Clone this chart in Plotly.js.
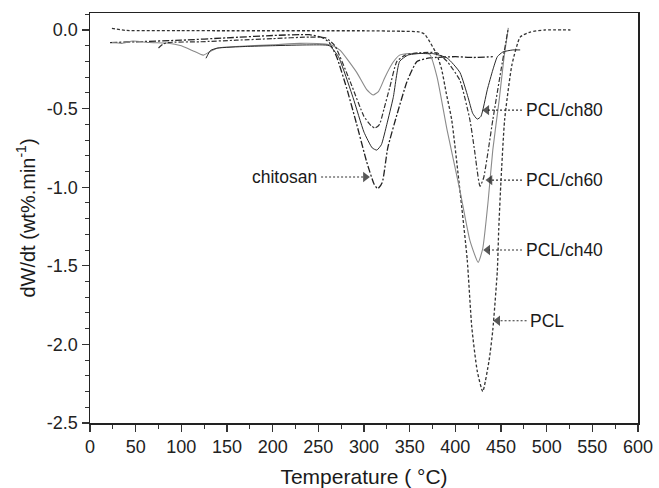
<!DOCTYPE html>
<html>
<head>
<meta charset="utf-8">
<script src="https://cdn.plot.ly/plotly-3.0.1.min.js"></script>
<style>html,body{margin:0;padding:0;background:#fff;}#chart{width:659px;height:488px;}</style>
</head>
<body>
<div id="chart"></div>
<script>
// ---- data ----
var T_PCL = [24, 40, 100, 150, 200, 250, 300, 340, 360, 366, 372, 380, 385, 390, 396, 405, 413, 418, 424, 430, 437, 441, 446, 447.5, 450, 454, 462, 471, 482, 498, 526];
var Y_PCL = [0.01, -0.003, -0.004, -0.005, -0.005, -0.005, -0.005, -0.008, -0.012, -0.025, -0.075, -0.16, -0.25, -0.4, -0.57, -1.02, -1.46, -1.89, -2.17, -2.30, -2.10, -1.91, -1.53, -1.27, -0.955, -0.57, -0.22, -0.045, -0.013, 0.0, 0.0];

var T_CHI = [22, 50, 100, 150, 200, 240, 255, 262, 270, 281, 292, 303, 311, 315, 320, 326, 336, 347, 358, 372, 400, 420, 441];
var Y_CHI = [-0.08, -0.075, -0.065, -0.05, -0.035, -0.03, -0.05, -0.08, -0.17, -0.37, -0.6, -0.84, -0.98, -1.01, -0.97, -0.75, -0.54, -0.33, -0.2, -0.178, -0.17, -0.175, -0.17];

var T_CH40 = [24, 35, 47, 65, 84, 100, 112, 124, 132, 140, 160, 200, 230, 258, 266, 274, 292, 303, 310, 316, 323, 332, 339, 350, 360, 372, 380, 391, 405, 416, 425, 430, 436, 441, 448, 453, 458];
var Y_CH40 = [-0.08, -0.085, -0.07, -0.08, -0.083, -0.1, -0.13, -0.16, -0.135, -0.115, -0.105, -0.095, -0.085, -0.09, -0.1, -0.13, -0.27, -0.38, -0.414, -0.39, -0.3, -0.204, -0.16, -0.15, -0.15, -0.155, -0.3, -0.637, -1.02, -1.34, -1.478, -1.39, -1.083, -0.764, -0.446, -0.19, 0.013];

var T_CH60 = [75, 80, 85, 120, 160, 200, 240, 258, 268, 285, 300, 308, 312, 317, 322, 328, 336, 345, 360, 380, 391, 405, 416, 421, 427, 431, 441, 450, 458];
var Y_CH60 = [-0.115, -0.09, -0.08, -0.075, -0.065, -0.055, -0.045, -0.05, -0.1, -0.33, -0.55, -0.61, -0.624, -0.6, -0.5, -0.37, -0.2, -0.16, -0.145, -0.146, -0.2, -0.32, -0.573, -0.764, -0.994, -0.94, -0.573, -0.255, 0.013];

var T_CH80 = [127, 132, 140, 170, 200, 240, 262, 272, 288, 300, 309, 314, 319, 325, 332, 339, 348, 360, 375, 391, 405, 414, 419, 424, 428, 435, 441, 446, 452, 463, 471];
var Y_CH80 = [-0.18, -0.13, -0.115, -0.105, -0.1, -0.095, -0.1, -0.17, -0.43, -0.65, -0.75, -0.764, -0.73, -0.6, -0.43, -0.2, -0.16, -0.15, -0.15, -0.178, -0.27, -0.43, -0.53, -0.567, -0.55, -0.38, -0.255, -0.17, -0.14, -0.127, -0.127];

// labels: text, label x (data), arrow tip x, y
var LABELS      = ['chitosan', 'PCL/ch80', 'PCL/ch60', 'PCL/ch40', 'PCL'];
var LABEL_X     = [251, 475, 475, 475, 480];
var LABEL_TIP_X = [307, 429, 432.5, 430, 441];
var LABEL_Y     = [-0.935, -0.51, -0.955, -1.40, -1.85];
var LABEL_SIDE  = ['right', 'left', 'left', 'left', 'left'];

var Y_TICKS = [-2.5, -2.0, -1.5, -1.0, -0.5, 0.0];
var Y_TICK_TEXT = ['-2.5', '-2.0', '-1.5', '-1.0', '-0.5', '0.0'];
var X_TICKS = [0, 50, 100, 150, 200, 250, 300, 350, 400, 450, 500, 550, 600];

// ---- traces ----
function curve(x, y, color, dash, width) {
  return {x: x, y: y, type: 'scatter', mode: 'lines', hoverinfo: 'skip',
          line: {color: color, dash: dash, width: width, shape: 'spline', smoothing: 0.5}};
}
var traces = [
  curve(T_PCL, Y_PCL, '#333', '3px,2px', 1.3),
  curve(T_CHI, Y_CHI, '#222', '7px,2px,2px,2px', 1.3),
  curve(T_CH40, Y_CH40, '#8a8a8a', 'solid', 1.1),
  curve(T_CH60, Y_CH60, '#333', '5px,2px,2px,2px', 1.2),
  curve(T_CH80, Y_CH80, '#2a2a2a', 'solid', 1.0)
];

var PX_PER_UNIT = 548 / 600;   // plot width / x span, to offset arrowheads by a few pixels
var labelFont = {family: 'Liberation Sans, Arial, sans-serif', size: 17.5, color: '#1a1a1a'};
var annotations = [];
var headX = [], headY = [], headSym = [];
for (var i = 0; i < LABELS.length; i++) {
  var left = LABEL_SIDE[i] === 'left';
  // dotted connector from label to arrow tip
  traces.push({x: [LABEL_X[i] + (left ? -2 : 2), LABEL_TIP_X[i] + (left ? 6 : -6) / PX_PER_UNIT], y: [LABEL_Y[i], LABEL_Y[i]],
               type: 'scatter', mode: 'lines', hoverinfo: 'skip',
               line: {color: '#333', dash: '2px,2px', width: 1.1}});
  headX.push(LABEL_TIP_X[i] + (left ? 5 : -5) / PX_PER_UNIT);
  headY.push(LABEL_Y[i]);
  headSym.push(left ? 'triangle-left' : 'triangle-right');
  annotations.push({x: LABEL_X[i], y: LABEL_Y[i], xref: 'x', yref: 'y', text: LABELS[i],
                    showarrow: false, xanchor: left ? 'left' : 'right', yanchor: 'middle',
                    font: labelFont});
}
traces.push({x: headX, y: headY, type: 'scatter', mode: 'markers', hoverinfo: 'skip',
             marker: {symbol: headSym, size: [9, 9, 9, 9, 9], color: '#111', line: {width: 0}}});

var axisFont = {family: 'Liberation Sans, Arial, sans-serif', size: 18, color: '#222'};
var titleFont = {family: 'Liberation Sans, Arial, sans-serif', size: 21, color: '#1a1a1a'};
var layout = {
  width: 659, height: 488,
  margin: {l: 90, r: 21, t: 13, b: 65},
  paper_bgcolor: '#fff', plot_bgcolor: '#fff',
  showlegend: false,
  font: axisFont,
  xaxis: {
    range: [0, 600], tickvals: X_TICKS, ticks: 'outside', ticklen: 7, tickwidth: 1.2, tickcolor: '#333',
    minor: {ticks: 'outside', ticklen: 4, dtick: 25, tickwidth: 1, tickcolor: '#333'},
    showline: true, linecolor: '#222', linewidth: 1.5, mirror: true,
    showgrid: false, zeroline: false, tickfont: axisFont,
    title: {text: 'Temperature ( °C)', font: titleFont, standoff: 13}
  },
  yaxis: {
    range: [-2.5, 0.108], tickvals: Y_TICKS, ticktext: Y_TICK_TEXT, ticks: 'outside', ticklen: 7, tickwidth: 1.2, tickcolor: '#333',
    minor: {ticks: 'outside', ticklen: 4, dtick: 0.1, tickwidth: 1, tickcolor: '#333'},
    showline: true, linecolor: '#222', linewidth: 1.5, mirror: true,
    showgrid: false, zeroline: false, tickfont: axisFont,
    title: {text: 'dW/dt (wt%.min<sup>-1</sup>)', font: {family: 'Liberation Sans, Arial, sans-serif', size: 20, color: '#1a1a1a'}, standoff: 6}
  },
  annotations: annotations
};

Plotly.newPlot('chart', traces, layout, {staticPlot: true, displayModeBar: false});
</script>
</body>
</html>
